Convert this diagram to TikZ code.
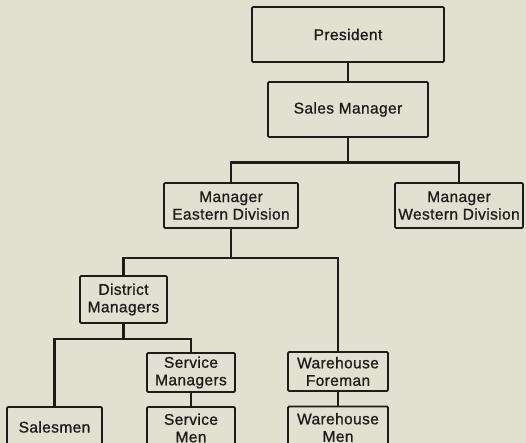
\documentclass[tikz,border=0pt]{standalone}
\usepackage{fontspec}
\newfontfamily\chartfont{Liberation Sans}[LetterSpace=2.5,
  BoldFont={Liberation Sans}, BoldFeatures={FakeBold=0.9}]
\begin{document}
\definecolor{paper}{RGB}{226,224,209}
\definecolor{ink}{RGB}{30,28,26}
\tikzset{
  unit/.style={draw=ink, line width=1.8pt, rounded corners=1.2pt, rectangle,
    inner sep=0pt, align=center, text=ink,
    font=\chartfont\fontsize{15.5}{17.5}\selectfont\bfseries},
  link/.style={draw=ink, line width=2.8pt}
}
\begin{tikzpicture}[x=1pt,y=-1pt]
  \fill[paper] (0,0) rectangle (526,443);
  \useasboundingbox (0,0) rectangle (526,443);
  \clip (0,0) rectangle (526,443);

  % boxes
  \node[unit, minimum width=192pt, minimum height=55pt] (pres)  at (348,34.5)  {President};
  \node[unit, minimum width=160pt, minimum height=55pt] (sales) at (348,109.5) {Sales Manager};
  \node[unit, minimum width=134pt, minimum height=45pt] (east)  at (231,205.5) {Manager\\Eastern Division};
  \node[unit, minimum width=128pt, minimum height=45pt] (west)  at (459,205.5) {Manager\\Western Division};
  \node[unit, minimum width=87pt,  minimum height=47pt] (dist)  at (123.5,299.5) {District\\Managers};
  \node[unit, minimum width=88pt,  minimum height=39pt] (smgr)  at (191,372.5) {Service\\Managers};
  \node[unit, minimum width=100pt, minimum height=39pt] (wfore) at (338,371.5) {Warehouse\\Foreman};
  \node[unit, minimum width=95pt,  minimum height=40pt] (sman)  at (54.5,427)  {Salesmen};
  \node[unit, minimum width=88pt,  minimum height=42pt] (smen)  at (191,428)   {Service\\Men};
  \node[unit, minimum width=100pt, minimum height=42pt] (wmen)  at (338,427.5) {Warehouse\\Men};

  % connectors
  \draw[link] (pres.south) -- (sales.north);
  \draw[link] (sales.south) -- ++(0,25) coordinate (j1);
  \draw[link] (east.north) |- (j1) -| (west.north);
  \draw[link] (east.south) -- ++(0,29) coordinate (j2);
  \draw[link] (dist.north) |- (j2) -| (wfore.north);
  \draw[link] (dist.south) -- ++(0,15) coordinate (j3);
  \draw[link] (sman.north) |- (j3) -| (smgr.north);
  \draw[link] (smgr.south) -- (smen.north);
  \draw[link] (wfore.south) -- (wmen.north);
\end{tikzpicture}
\end{document}
